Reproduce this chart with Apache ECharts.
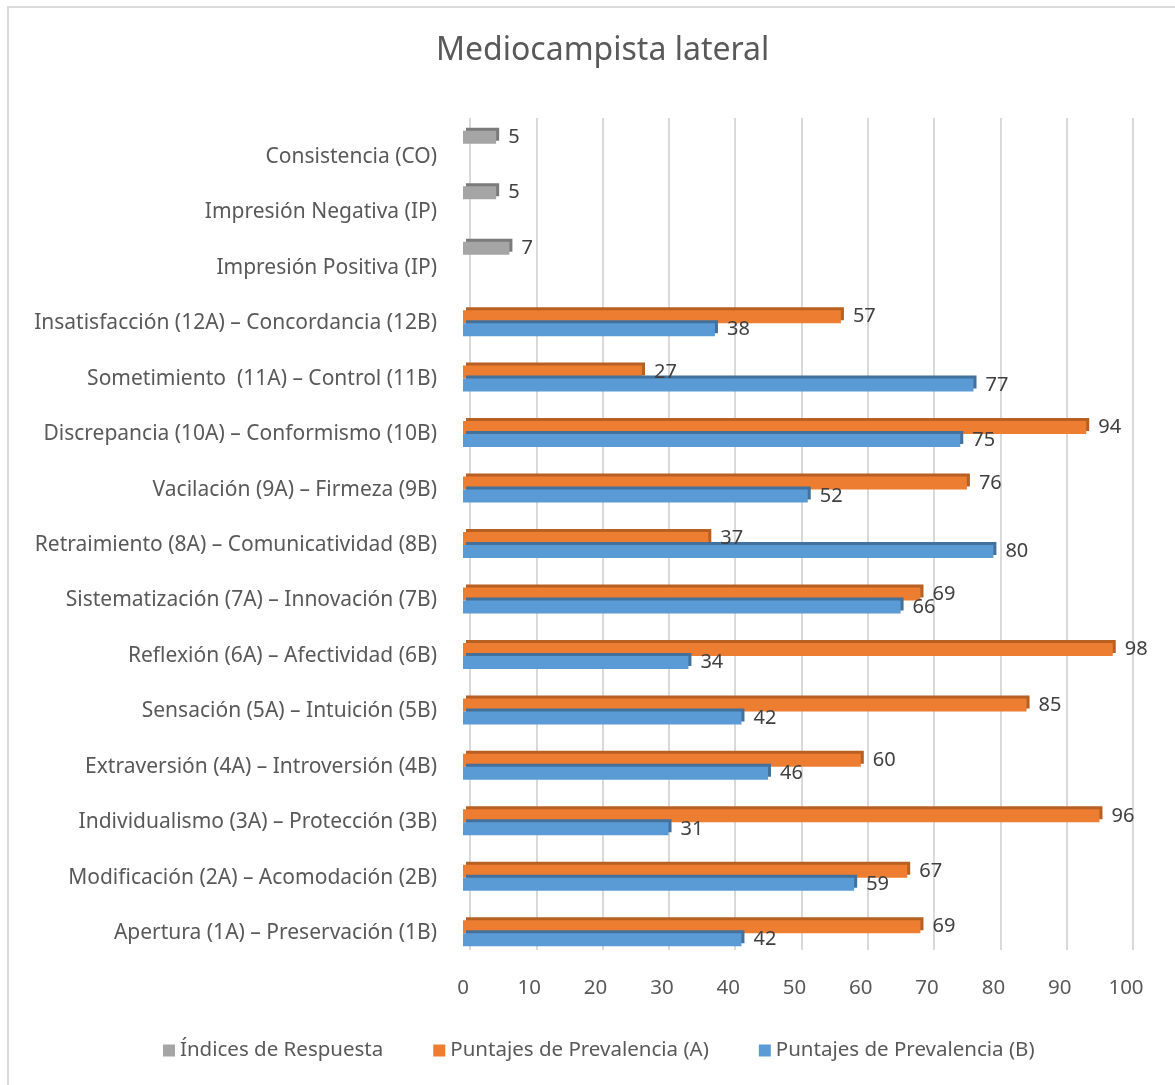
<!DOCTYPE html>
<html>
<head>
<meta charset="utf-8">
<script src="https://cdn.jsdelivr.net/npm/echarts@6/dist/echarts.min.js"></script>
<style>
html,body{margin:0;padding:0;background:#fff;}
#chart{width:1175px;height:1085px;}
</style>
</head>
<body>
<div id="chart"></div>
<script>
// Categories, bottom to top
const categories = [
  'Apertura (1A) – Preservación (1B)',
  'Modificación (2A) – Acomodación (2B)',
  'Individualismo (3A) – Protección (3B)',
  'Extraversión (4A) – Introversión (4B)',
  'Sensación (5A) – Intuición (5B)',
  'Reflexión (6A) – Afectividad (6B)',
  'Sistematización (7A) – Innovación (7B)',
  'Retraimiento (8A) – Comunicatividad (8B)',
  'Vacilación (9A) – Firmeza (9B)',
  'Discrepancia (10A) – Conformismo (10B)',
  'Sometimiento  (11A) – Control (11B)',
  'Insatisfacción (12A) – Concordancia (12B)',
  'Impresión Positiva (IP)',
  'Impresión Negativa (IP)',
  'Consistencia (CO)'
];
const indicesRespuesta = [null,null,null,null,null,null,null,null,null,null,null,null,7,5,5];
const prevalenciaA = [69,67,96,60,85,98,69,37,76,94,27,57,null,null,null];
const prevalenciaB = [42,59,31,46,42,34,66,80,52,75,77,38,null,null,null];
const xTicks = [0,10,20,30,40,50,60,70,80,90,100];

const seriesNames = ['Índices de Respuesta','Puntajes de Prevalencia (A)','Puntajes de Prevalencia (B)'];
const FONT = 'Noto Sans';

function barSeries(name, data, color, dark){
  return {
    name: name, type: 'bar', data: data, xAxisIndex: 0, yAxisIndex: 0,
    barWidth: 13, barGap: '0%',
    itemStyle: {color: color, shadowColor: dark, shadowOffsetX: 3, shadowOffsetY: -3, shadowBlur: 0},
    label: {show: true, position: 'right', distance: 12, color: '#404040', fontSize: 20, fontFamily: FONT},
    emphasis: {disabled: true}, animation: false
  };
}

const chart = echarts.init(document.getElementById('chart'), null, {renderer: 'canvas'});
chart.setOption({
  animation: false,
  backgroundColor: '#fff',
  title: {
    text: 'Mediocampista lateral', left: 431, top: 30,
    textStyle: {fontFamily: FONT, fontSize: 32, fontWeight: 'normal', color: '#595959'}
  },
  graphic: [{
    type: 'rect', z: -1, silent: true,
    shape: {x: 8, y: 7, width: 3000, height: 3000},
    style: {fill: 'none', stroke: '#d9d9d9', lineWidth: 2}
  }],
  legend: {
    data: seriesNames, bottom: 19, left: 158, itemWidth: 12, itemHeight: 12, itemGap: 50,
    icon: 'rect',
    textStyle: {fontFamily: FONT, fontSize: 20.5, color: '#595959'}
  },
  grid: [
    {left: 463, width: 663, top: 129, height: 832, containLabel: false},
    {left: 470, width: 663, top: 118, height: 832, containLabel: false}
  ],
  xAxis: [
    {type: 'value', gridIndex: 0, min: 0, max: 100, interval: 10,
     axisLine: {show: false}, axisTick: {show: false}, splitLine: {show: false},
     axisLabel: {margin: 17, color: '#595959', fontFamily: FONT, fontSize: 20.5}},
    {type: 'value', gridIndex: 1, min: 0, max: 100, interval: 10,
     axisLine: {show: false}, axisTick: {show: false}, axisLabel: {show: false},
     splitLine: {show: true, lineStyle: {color: '#d9d9d9', width: 2}}}
  ],
  yAxis: [
    {type: 'category', gridIndex: 0, data: categories,
     axisLine: {show: false}, axisTick: {show: false},
     axisLabel: {margin: 26, color: '#595959', fontFamily: FONT, fontSize: 21}},
    {type: 'category', gridIndex: 1, data: categories,
     axisLine: {show: false}, axisTick: {show: false}, axisLabel: {show: false}}
  ],
  series: [
    barSeries(seriesNames[0], indicesRespuesta, '#a5a5a5', '#7b7b7b'),
    barSeries(seriesNames[1], prevalenciaA, '#ed7d31', '#b85f22'),
    barSeries(seriesNames[2], prevalenciaB, '#5b9bd5', '#41719c'),
    {name: '', type: 'bar', data: categories.map(() => null), barWidth: 13, barGap: '0%', xAxisIndex: 0, yAxisIndex: 0, silent: true}
  ]
});
</script>
</body>
</html>
